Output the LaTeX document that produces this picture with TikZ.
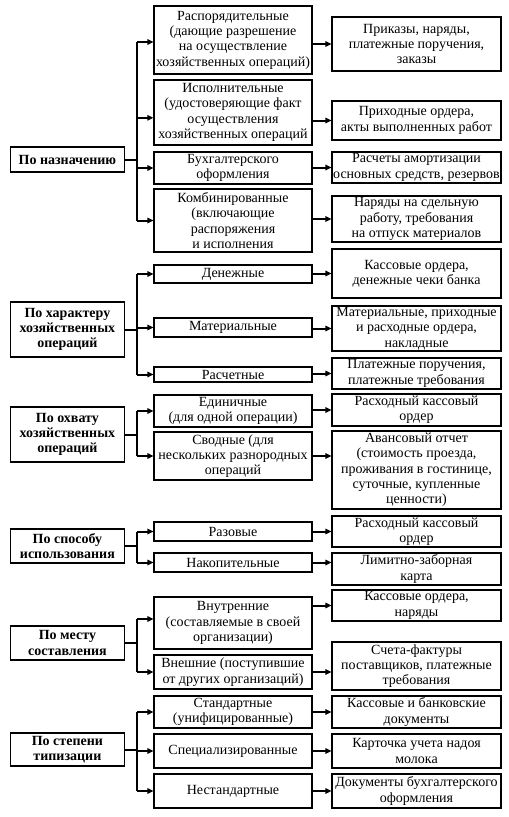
\documentclass[tikz,border=0pt]{standalone}
\usepackage{fontspec}
\setmainfont{Liberation Serif}
\usetikzlibrary{arrows.meta}
\tikzset{
  box/.style={draw, line width=0.8pt, align=center, inner sep=0pt, font=\fontsize{10.5}{11.5}\selectfont},
  lbox/.style={box, font=\fontsize{10.5}{11.5}\selectfont\bfseries, minimum width=85pt},
  mbox/.style={box, minimum width=118.5pt},
  rbox/.style={box, minimum width=126.75pt},
  boxh/.style={minimum height=#1*0.75pt},
  trunk/.style={line width=1.5pt},
  link/.style={line width=1.5pt, -{Triangle[length=4.5pt,width=4pt]}}
}
\begin{document}
\begin{tikzpicture}[x=0.75pt,y=-0.75pt]
\useasboundingbox (0,0) rectangle (509,817);
\coordinate (x0) at (137,0);
% По назначению
\node[lbox, boxh=25] (g1) at (67.4,159.5) {По назначению};
\node[mbox, boxh=68] (m1) at (233,40) {Распорядительные\\(дающие разрешение\\на осуществление\\хозяйственных операций)};
\node[rbox, boxh=54] (r1) at (416.5,44) {Приказы, наряды,\\платежные поручения,\\заказы};
\node[mbox, boxh=65] (m2) at (233,112.5) {Исполнительные\\(удостоверяющие факт\\осуществления\\хозяйственных операций};
\node[rbox, boxh=39] (r2) at (416.5,120.5) {Приходные ордера,\\акты выполненных работ};
\node[mbox, boxh=32] (m3) at (233,168) {Бухгалтерского\\оформления};
\node[rbox, boxh=31] (r3) at (416.5,167.5) {Расчеты амортизации\\основных средств, резервов};
\node[mbox, boxh=63] (m4) at (233,220.5) {Комбинированные\\(включающие\\распоряжения\\и исполнения};
\node[rbox, boxh=46] (r4) at (416.5,219) {Наряды на сдельную\\работу, требования\\на отпуск материалов};
% По характеру хозяйственных операций
\node[lbox, boxh=55] (g2) at (67.4,329.5) {По характеру\\хозяйственных\\операций};
\node[mbox, boxh=18] (m5) at (233,274) {Денежные};
\node[rbox, boxh=49] (r5) at (416.5,273.5) {Кассовые ордера,\\денежные чеки банка};
\node[mbox, boxh=19] (m6) at (233,327.5) {Материальные};
\node[rbox, boxh=45] (r6) at (416.5,328.5) {Материальные, приходные\\и расходные ордера,\\накладные};
\node[mbox, boxh=15] (m7) at (233,374.5) {Расчетные};
\node[rbox, boxh=31] (r7) at (416.5,373.5) {Платежные поручения,\\платежные требования};
% По охвату хозяйственных операций
\node[lbox, boxh=55] (g3) at (67.4,434.5) {По охвату\\хозяйственных\\операций};
\node[mbox, boxh=32] (m8) at (233,411) {Единичные\\(для одной операции)};
\node[rbox, boxh=32] (r8) at (416.5,410) {Расходный кассовый\\ордер};
\node[mbox, boxh=48] (m9) at (233,456) {Сводные (для\\нескольких разнородных\\операций};
\node[rbox, boxh=78] (r9) at (416.5,470) {Авансовый отчет\\(стоимость проезда,\\проживания в гостинице,\\суточные, купленные\\ценности)};
% По способу использования
\node[lbox, boxh=34] (g4) at (67.4,546) {По способу\\использования};
\node[mbox, boxh=19] (m10) at (233,531.5) {Разовые};
\node[rbox, boxh=31] (r10) at (416.5,531.5) {Расходный кассовый\\ордер};
\node[mbox, boxh=19] (m11) at (233,562.5) {Накопительные};
\node[rbox, boxh=32] (r11) at (416.5,569) {Лимитно-заборная\\карта};
% По месту составления
\node[lbox, boxh=34] (g5) at (67.4,643) {По месту\\составления};
\node[mbox, boxh=52] (m12) at (233,623) {Внутренние\\(составляемые в своей\\организации)};
\node[rbox, boxh=31] (r12) at (416.5,605.5) {Кассовые ордера,\\наряды};
\node[mbox, boxh=34] (m13) at (233,672) {Внешние (поступившие\\от других организаций)};
\node[rbox, boxh=48] (r13) at (416.5,666) {Счета-фактуры\\поставщиков, платежные\\требования};
% По степени типизации
\node[lbox, boxh=33] (g6) at (67.4,749.5) {По степени\\типизации};
\node[mbox, boxh=32] (m14) at (233,712) {Стандартные\\(унифицированные)};
\node[rbox, boxh=32] (r14) at (416.5,712) {Кассовые и банковские\\документы};
\node[mbox, boxh=34] (m15) at (233,751) {Специализированные};
\node[rbox, boxh=34] (r15) at (416.5,751) {Карточка учета надоя\\молока};
\node[mbox, boxh=34] (m16) at (233,791) {Нестандартные};
\node[rbox, boxh=34] (r16) at (416.5,791) {Документы бухгалтерского\\оформления};
% trunks
\foreach \g/\a/\da/\b in {g1/m1/-1.5pt/m4, g2/m5/0pt/m7, g3/m8/0pt/m9, g4/m10/0pt/m11, g5/m12/3pt/m13, g6/m14/0pt/m16}{
  \draw[trunk] (\g.east) -- (x0 |- \g.east);
  \draw[trunk] ([yshift=\da]x0 |- \a.west) -- (x0 |- \b.west);
}
\foreach \m/\d in {m1/-1.5pt,m2/-4pt,m3/0pt,m4/0pt,m5/0pt,m6/0pt,m7/0pt,m8/0pt,m9/0pt,m10/0pt,m11/0pt,m12/3pt,m13/0pt,m14/0pt,m15/0pt,m16/0pt}
  \draw[link] ([yshift=\d]x0 |- \m.west) -- ([yshift=\d]\m.west);
% arrows to the right column
\foreach \m/\r in {m1/r1,m2/r2,m3/r3,m4/r4,m5/r5,m6/r6,m7/r7,m8/r8,m10/r10,m12/r12,m14/r14,m15/r15,m16/r16}
  \draw[link] (\m.east |- \r.west) -- (\r.west);
\foreach \m/\r in {m9/r9,m11/r11,m13/r13}
  \draw[link] (\m.east) -- (\m.east -| \r.west);
\end{tikzpicture}
\end{document}
